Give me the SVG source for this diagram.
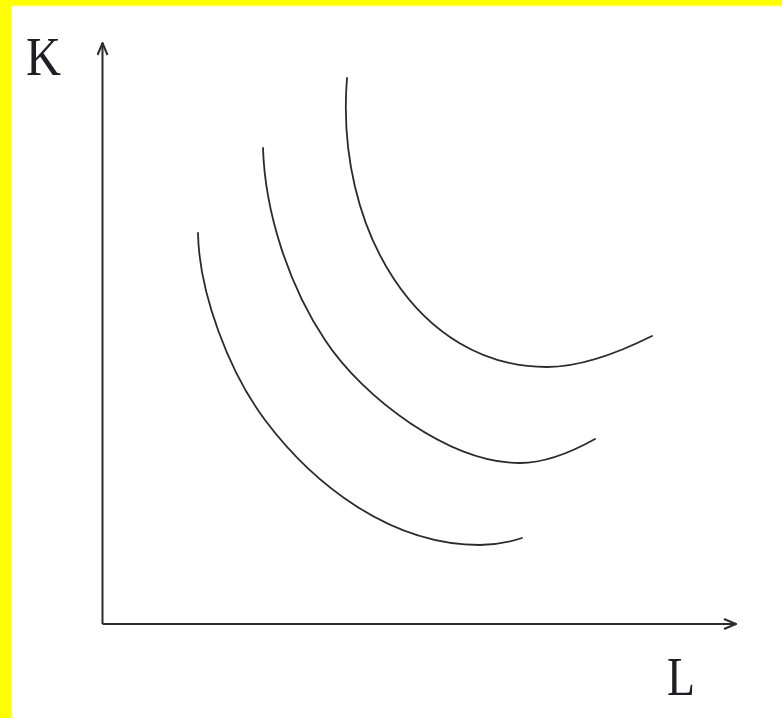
<svg xmlns="http://www.w3.org/2000/svg" width="782" height="718" viewBox="0 0 782 718">
  <style>
    .axis { stroke: #2b2b2b; stroke-width: 2; fill: none; }
    .curve { stroke: #2b2b2b; stroke-width: 1.8; fill: none; stroke-linecap: round; }
    .label { font-family: "Liberation Serif", "Times New Roman", serif; font-size: 55px; fill: #1e1e24; }
  </style>
  <defs>
    <marker id="arrow" viewBox="0 0 14 12" refX="13" refY="6" markerWidth="14" markerHeight="12" markerUnits="userSpaceOnUse" orient="auto">
      <path d="M1,1 L13,6 L1,11" fill="none" stroke="#2b2b2b" stroke-width="2"/>
    </marker>
  </defs>
  <rect x="0" y="0" width="782" height="718" fill="#ffff00"/>
  <rect x="11" y="5" width="771" height="713" fill="#ffffff"/>
  <g id="connectors">
    <path id="y-axis" class="axis" d="M102.5,624 L102.5,43" marker-end="url(#arrow)"/>
    <path id="x-axis" class="axis" d="M102.5,624 L736,624" marker-end="url(#arrow)"/>
  </g>
  <g id="curve1">
    <path class="curve" d="M198,233 C199,293 229,372 265,420 C313,484 390,545 480,545 C495,545 510,542 522,538"/>
  </g>
  <g id="curve2">
    <path class="curve" d="M263,148 C265,213 289,286 325,340 C363.5,398.5 450,463 520,463 C545,463 570,453 595,439"/>
  </g>
  <g id="curve3">
    <path class="curve" d="M347,78 C335,228 417,367 547,367 C582,367 620,352 652,336"/>
  </g>
  <g id="label-K">
    <text class="label" x="26" y="75" textLength="35" lengthAdjust="spacingAndGlyphs">K</text>
  </g>
  <g id="label-L">
    <text class="label" x="667" y="695" textLength="28" lengthAdjust="spacingAndGlyphs">L</text>
  </g>
</svg>
